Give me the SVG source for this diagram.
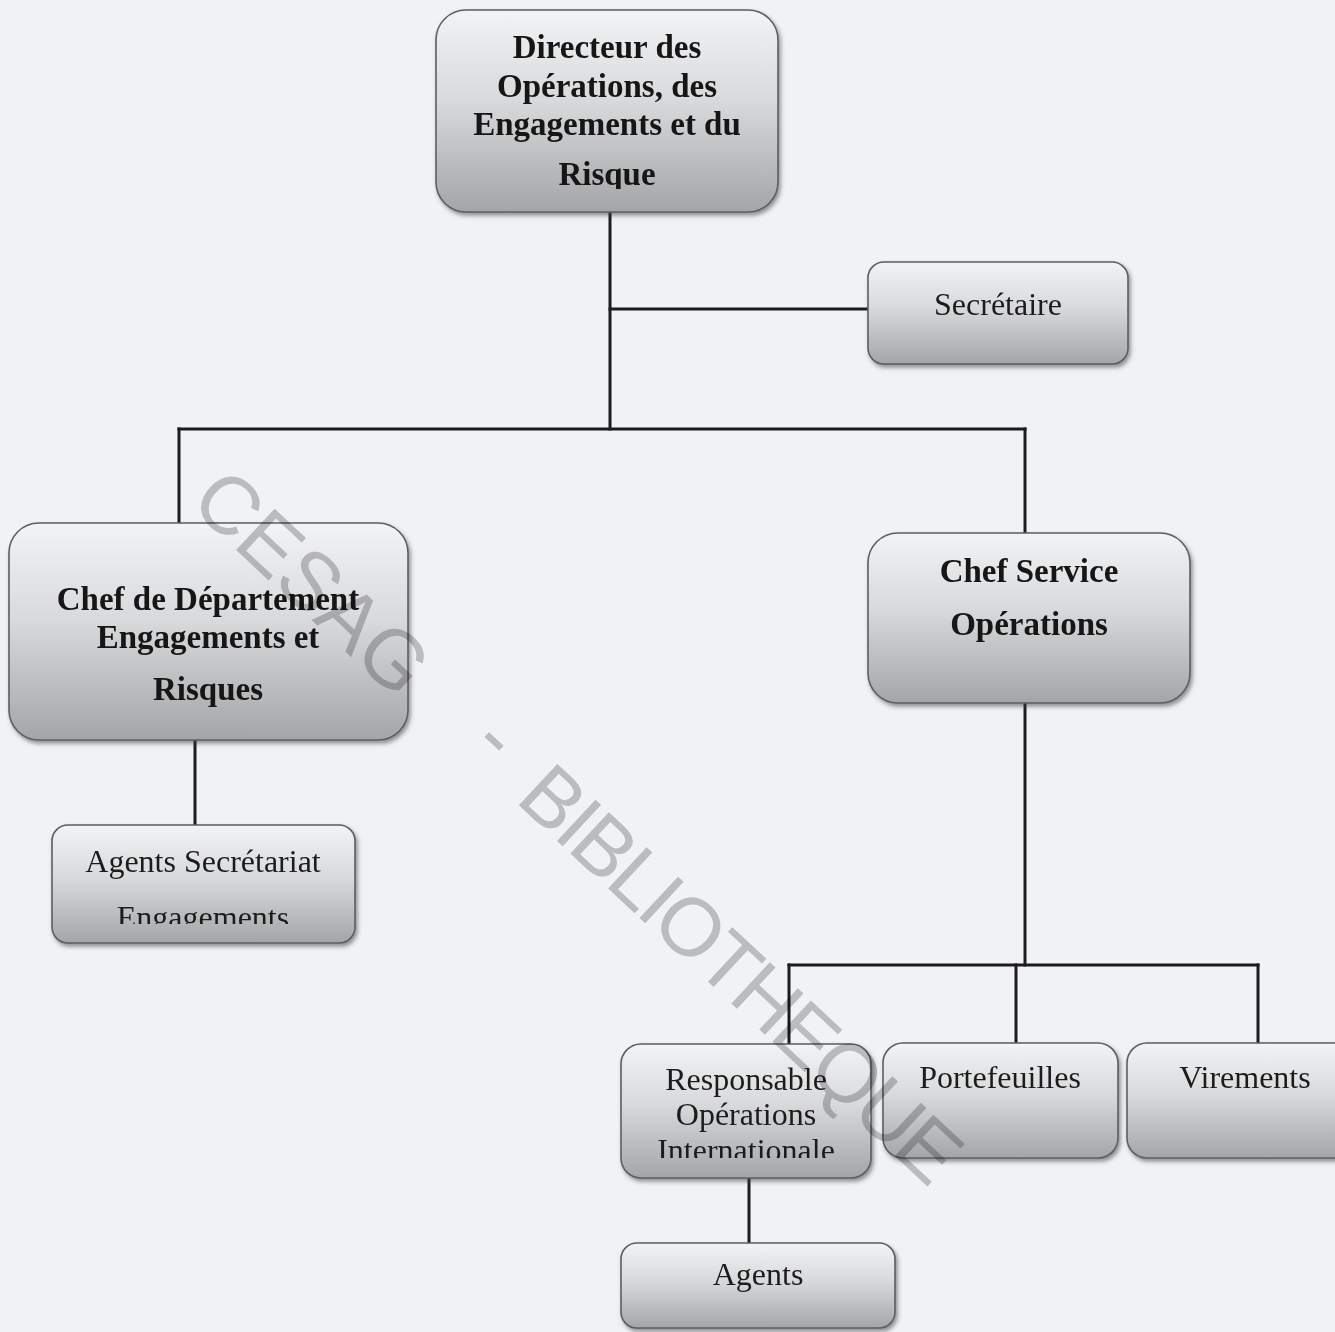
<svg xmlns="http://www.w3.org/2000/svg" width="1335" height="1332" viewBox="0 0 1335 1332">
  <defs>
    <linearGradient id="boxFill" x1="0" y1="0" x2="0" y2="1">
      <stop offset="0" stop-color="#f2f3f5"/>
      <stop offset="0.45" stop-color="#d8d9db"/>
      <stop offset="1" stop-color="#a4a5a7"/>
    </linearGradient>
    <filter id="shadow" x="-10%" y="-10%" width="125%" height="130%">
      <feDropShadow dx="2" dy="3" stdDeviation="2" flood-color="#404040" flood-opacity="0.55"/>
    </filter>
    <clipPath id="clipDir"><rect x="436" y="10" width="342" height="179"/></clipPath>
    <clipPath id="clipAgSec"><rect x="52" y="825" width="303" height="99"/></clipPath>
    <clipPath id="clipResp"><rect x="621" y="1044" width="250" height="114"/></clipPath>
  </defs>
  <style>
    .box { fill: url(#boxFill); stroke: #5e5e60; stroke-width: 1.6; filter: url(#shadow); }
    .bold { font-family: "Liberation Serif", "DejaVu Serif", serif; font-weight: bold; font-size: 33px; fill: #161616; text-anchor: middle; }
    .reg { font-family: "Liberation Serif", "DejaVu Serif", serif; font-size: 32px; fill: #1c1c1c; text-anchor: middle; }
    .conn { stroke: #1c1c1c; stroke-width: 3; fill: none; stroke-linecap: square; }
    .mark { font-family: "Liberation Sans", Arial, sans-serif; font-size: 82px; fill: #c6c6c6; }
    #stamp { mix-blend-mode: multiply; }
  </style>

  <rect width="1335" height="1332" fill="#f0f2f6"/>

  <!-- connectors -->
  <g id="connectors">
    <path class="conn" d="M610 212 V429"/>
    <path class="conn" d="M610 309 H868"/>
    <path class="conn" d="M179 429 H1025"/>
    <path class="conn" d="M179 429 V523"/>
    <path class="conn" d="M1025 429 V533"/>
    <path class="conn" d="M195 740 V825"/>
    <path class="conn" d="M1025 703 V965"/>
    <path class="conn" d="M789 965 H1258"/>
    <path class="conn" d="M789 965 V1044"/>
    <path class="conn" d="M1016 965 V1043"/>
    <path class="conn" d="M1258 965 V1043"/>
    <path class="conn" d="M749 1178 V1243"/>
  </g>

  <g id="directeur">
    <rect class="box" x="436" y="10" width="342" height="202" rx="30"/>
    <g clip-path="url(#clipDir)">
      <text class="bold" x="607" y="58">Directeur des</text>
      <text class="bold" x="607" y="97">Opérations, des</text>
      <text class="bold" x="607" y="135">Engagements et du</text>
      <text class="bold" x="607" y="185">Risque</text>
    </g>
  </g>

  <g id="secretaire">
    <rect class="box" x="868" y="262" width="260" height="102" rx="16"/>
    <text class="reg" x="998" y="315">Secrétaire</text>
  </g>

  <g id="chef-departement">
    <rect class="box" x="9" y="523" width="399" height="217" rx="30"/>
    <text class="bold" x="208" y="610">Chef de Département</text>
    <text class="bold" x="208" y="648">Engagements et</text>
    <text class="bold" x="208" y="700">Risques</text>
  </g>

  <g id="agents-secretariat">
    <rect class="box" x="52" y="825" width="303" height="118" rx="16"/>
    <g clip-path="url(#clipAgSec)">
      <text class="reg" x="203" y="872">Agents Secrétariat</text>
      <text class="reg" x="203" y="928">Engagements</text>
    </g>
  </g>

  <g id="chef-service">
    <rect class="box" x="868" y="533" width="322" height="170" rx="30"/>
    <text class="bold" x="1029" y="582">Chef Service</text>
    <text class="bold" x="1029" y="635">Opérations</text>
  </g>

  <g id="responsable">
    <rect class="box" x="621" y="1044" width="250" height="134" rx="20"/>
    <g clip-path="url(#clipResp)">
      <text class="reg" x="746" y="1090">Responsable</text>
      <text class="reg" x="746" y="1125">Opérations</text>
      <text class="reg" x="746" y="1161">Internationale</text>
    </g>
  </g>

  <g id="portefeuilles">
    <rect class="box" x="883" y="1043" width="235" height="115" rx="20"/>
    <text class="reg" x="1000" y="1088">Portefeuilles</text>
  </g>

  <g id="virements">
    <rect class="box" x="1127" y="1043" width="236" height="115" rx="20"/>
    <text class="reg" x="1245" y="1088">Virements</text>
  </g>

  <g id="agents">
    <rect class="box" x="621" y="1243" width="274" height="85" rx="16"/>
    <text class="reg" x="758" y="1285">Agents</text>
  </g>

  <!-- library stamp across the page, multiplied so dark text stays readable -->
  <g id="stamp" transform="translate(188 505) rotate(43)">
    <text class="mark" x="0" y="0">CESAG</text>
    <text class="mark" x="385" y="-14" text-anchor="middle">-</text>
    <text class="mark" x="440" y="-6" textLength="569" lengthAdjust="spacing">BIBLIOTHEQUE</text>
  </g>
</svg>
